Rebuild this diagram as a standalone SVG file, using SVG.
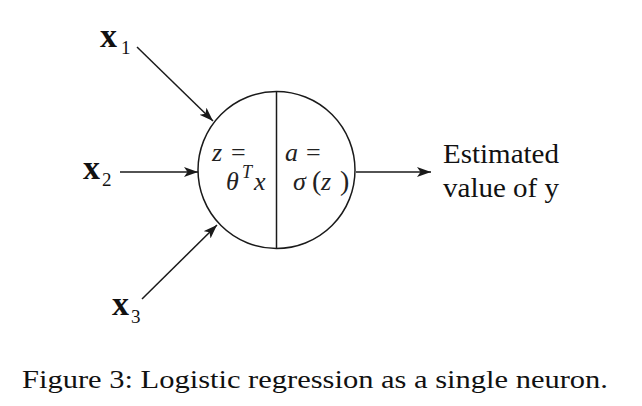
<svg xmlns="http://www.w3.org/2000/svg" width="642" height="406" viewBox="0 0 642 406">
<style>
text{font-family:'Liberation Serif','Times New Roman',Times,serif}
.ln{stroke:#1a1a1a;stroke-width:1.5;fill:none}
.bx{font-weight:bold;font-size:34px;fill:#111}
.sb{font-size:19px;fill:#111}
.m{font-size:26px;fill:#222}
.i{font-style:italic}
.t{font-size:27px;fill:#111}
.cap{font-size:26px;fill:#111}
</style>
<defs>
<marker id="ah" markerUnits="userSpaceOnUse" markerWidth="16" markerHeight="12" refX="14" refY="5" orient="auto">
<path d="M0,0 L14,5 L0,10 L3.5,5 z" fill="#1a1a1a"/>
</marker>
</defs>
<g id="connectors">
<line class="ln" x1="137" y1="47" x2="213" y2="121" marker-end="url(#ah)"/>
<line class="ln" x1="120" y1="172" x2="198" y2="172" marker-end="url(#ah)"/>
<line class="ln" x1="142" y1="299" x2="217" y2="225" marker-end="url(#ah)"/>
<line class="ln" x1="356" y1="172" x2="431" y2="172" marker-end="url(#ah)"/>
</g>
<g id="x1">
<text class="bx" x="100" y="47">x</text><text class="sb" x="121" y="54">1</text>
</g>
<g id="x2">
<text class="bx" x="83" y="179">x</text><text class="sb" x="102" y="186">2</text>
</g>
<g id="x3">
<text class="bx" x="112" y="315">x</text><text class="sb" x="131" y="323">3</text>
</g>
<g id="neuron">
<circle class="ln" cx="276.5" cy="170" r="78.5"/>
<line class="ln" x1="276.5" y1="91.5" x2="276.5" y2="248.5"/>
<text class="m" x="212" y="161"><tspan class="i">z</tspan><tspan x="231">=</tspan></text>
<text class="m" x="226" y="190"><tspan class="i">θ</tspan><tspan class="i" x="242" dy="-12" font-size="18">T</tspan><tspan class="i" x="254" dy="12">x</tspan></text>
<text class="m" x="285" y="161"><tspan class="i">a</tspan><tspan x="306">=</tspan></text>
<text class="m" x="293" y="190"><tspan class="i">σ</tspan><tspan x="312" font-size="28">(</tspan><tspan class="i" x="321">z</tspan><tspan x="340" font-size="28">)</tspan></text>
</g>
<g id="output">
<text class="t" x="443" y="163" textLength="116" lengthAdjust="spacingAndGlyphs">Estimated</text>
<text class="t" x="443" y="197" textLength="116" lengthAdjust="spacingAndGlyphs">value of y</text>
</g>
<text class="cap" x="22" y="388" textLength="586" lengthAdjust="spacingAndGlyphs">Figure 3: Logistic regression as a single neuron.</text>
</svg>
